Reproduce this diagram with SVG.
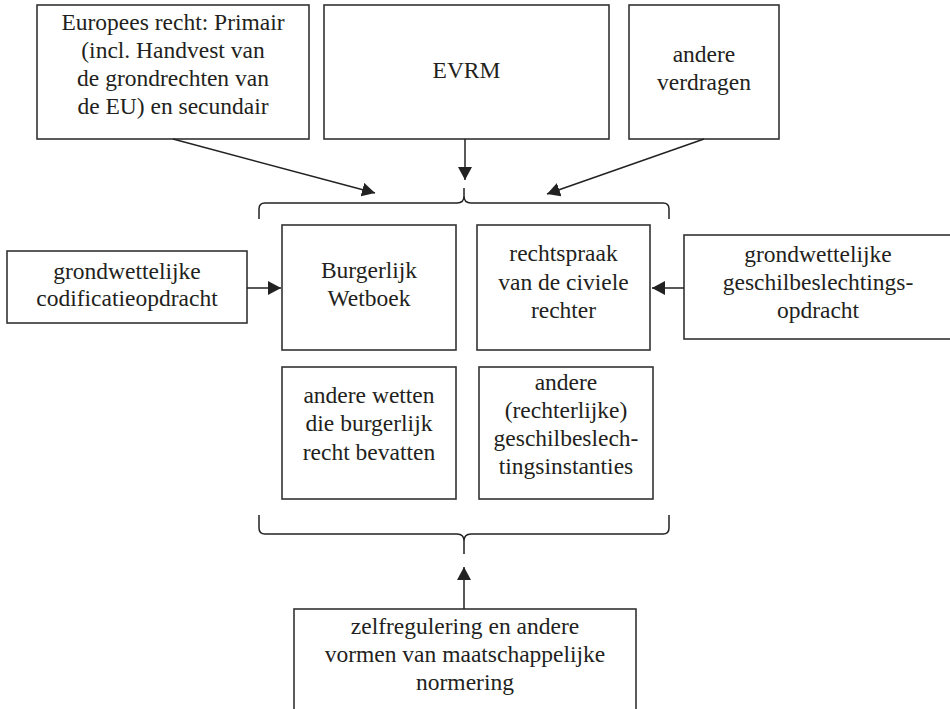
<svg xmlns="http://www.w3.org/2000/svg" width="950" height="709" viewBox="0 0 950 709">
<style>
rect.box { fill: #fff; stroke: #333; stroke-width: 1.6; }
text { font-family: "Liberation Serif", "Times New Roman", serif; font-size: 23.5px; fill: #231f20; text-anchor: middle; }
.conn line { stroke: #222; stroke-width: 1.5; }
.brace { fill: none; stroke: #222; stroke-width: 1.5; }
</style>
<defs>
<marker id="ah" markerUnits="userSpaceOnUse" markerWidth="13" markerHeight="14" refX="13" refY="7" orient="auto">
<path d="M0,0 L13,7 L0,14 Z" fill="#222"/>
</marker>
</defs>
<rect width="950" height="709" fill="#fff"/>

<g id="europees">
<rect class="box" x="37" y="5" width="272" height="134"/>
<text x="173" y="30">Europees recht: Primair</text>
<text x="173" y="58">(incl. Handvest van</text>
<text x="173" y="86">de grondrechten van</text>
<text x="173" y="114">de EU) en secundair</text>
</g>
<g id="evrm">
<rect class="box" x="324" y="5" width="285" height="134"/>
<text x="466.5" y="78">EVRM</text>
</g>
<g id="verdragen">
<rect class="box" x="629" y="5" width="150" height="134"/>
<text x="704" y="62">andere</text>
<text x="704" y="90">verdragen</text>
</g>
<g id="codificatie">
<rect class="box" x="7" y="251" width="240" height="72"/>
<text x="127" y="279">grondwettelijke</text>
<text x="127" y="306">codificatieopdracht</text>
</g>
<g id="bw">
<rect class="box" x="282" y="225" width="174" height="125"/>
<text x="369" y="278">Burgerlijk</text>
<text x="369" y="306">Wetboek</text>
</g>
<g id="rechtspraak">
<rect class="box" x="477" y="225" width="173" height="125"/>
<text x="563.5" y="261">rechtspraak</text>
<text x="563.5" y="290">van de civiele</text>
<text x="563.5" y="318">rechter</text>
</g>
<g id="geschil">
<rect class="box" x="684" y="235" width="268" height="104"/>
<text x="818" y="262">grondwettelijke</text>
<text x="818" y="290">geschilbeslechtings-</text>
<text x="818" y="318">opdracht</text>
</g>
<g id="anderewetten">
<rect class="box" x="282" y="367" width="174" height="132"/>
<text x="369" y="403">andere wetten</text>
<text x="369" y="431">die burgerlijk</text>
<text x="369" y="460">recht bevatten</text>
</g>
<g id="instanties">
<rect class="box" x="479" y="367" width="174" height="132"/>
<text x="566" y="390">andere</text>
<text x="566" y="418">(rechterlijke)</text>
<text x="566" y="446">geschilbeslech-</text>
<text x="566" y="474">tingsinstanties</text>
</g>
<g id="zelfregulering">
<rect class="box" x="294" y="609" width="342" height="120"/>
<text x="465" y="634">zelfregulering en andere</text>
<text x="465" y="662">vormen van maatschappelijke</text>
<text x="465" y="690">normering</text>
</g>

<g id="connectors" class="conn">
<path class="brace" d="M259,219 L259,209 Q259,203 265,203 L457,203 Q464,203 464,196 L464,188 M464,196 Q464,203 471,203 L663,203 Q669,203 669,209 L669,219"/>
<path class="brace" d="M259,515 L259,528 Q259,534 265,534 L457,534 Q464,534 464,541 L464,554 M464,541 Q464,534 471,534 L663,534 Q669,534 669,528 L669,515"/>
<line x1="173" y1="139" x2="375" y2="193" marker-end="url(#ah)"/>
<line x1="465" y1="139" x2="465" y2="180" marker-end="url(#ah)"/>
<line x1="704" y1="139" x2="547" y2="194" marker-end="url(#ah)"/>
<line x1="247" y1="288" x2="281" y2="288" marker-end="url(#ah)"/>
<line x1="684" y1="288" x2="652" y2="288" marker-end="url(#ah)"/>
<line x1="464" y1="609" x2="464" y2="567" marker-end="url(#ah)"/>
</g>
</svg>
